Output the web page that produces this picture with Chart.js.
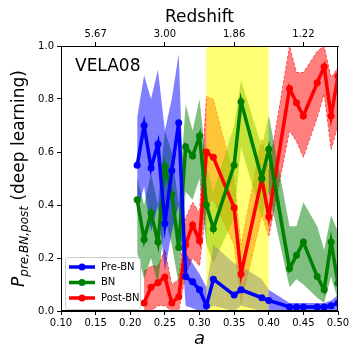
<!DOCTYPE html>
<html><head><meta charset="utf-8">
<script src="https://cdn.jsdelivr.net/npm/chart.js@4"></script>
<style>html,body{margin:0;padding:0;background:#fff;} canvas{display:block;}</style>
</head><body>
<canvas id="c" width="360" height="360"></canvas>
<script>
// ---- data ----
const aVals    = [0.21,0.22,0.23,0.24,0.25,0.26,0.27,0.28,0.29,0.30,0.31,0.32,0.35,0.36,0.39,0.40,0.43,0.44,0.45,0.47,0.48,0.49,0.50];
const preBN    = [0.55,0.70,0.54,0.63,0.33,0.53,0.71,0.13,0.11,0.08,0.02,0.12,0.06,0.08,0.05,0.04,0.015,0.015,0.015,0.015,0.015,0.02,0.03];
const preBNLo  = [0.37,0.47,0.30,0.40,0.15,0.30,0.40,0.02,0.01,0.00,0.00,0.02,0.00,0.02,0.00,0.00,0.00,0.00,0.00,0.00,0.00,0.00,0.00];
const preBNHi  = [0.73,0.89,0.80,0.91,0.68,0.80,0.97,0.22,0.18,0.14,0.09,0.25,0.18,0.17,0.12,0.08,0.03,0.03,0.03,0.03,0.03,0.04,0.06];
const bn       = [0.42,0.27,0.37,0.26,0.545,0.44,0.24,0.62,0.585,0.66,0.40,0.31,0.55,0.79,0.50,0.61,0.16,0.21,0.26,0.13,0.08,0.26,0.105];
const bnLo     = [0.22,0.12,0.20,0.10,0.35,0.25,0.10,0.45,0.42,0.50,0.25,0.18,0.35,0.62,0.35,0.45,0.09,0.12,0.10,0.05,0.03,0.13,0.04];
const bnHi     = [0.50,0.40,0.52,0.40,0.68,0.60,0.40,0.78,0.68,0.80,0.55,0.45,0.70,0.87,0.62,0.74,0.32,0.32,0.41,0.32,0.23,0.36,0.30];
const postBN   = [null,0.03,0.09,0.107,0.128,0.03,0.054,0.25,0.325,0.265,0.60,0.58,0.39,0.14,0.50,0.356,0.84,0.786,0.736,0.861,0.922,0.736,0.887];
const postBNLo = [null,0.00,0.00,0.02,0.02,0.00,0.00,0.14,0.20,0.17,0.40,0.42,0.25,0.03,0.36,0.28,0.68,0.64,0.58,0.73,0.82,0.61,0.70];
const postBNHi = [null,0.15,0.17,0.17,0.23,0.10,0.12,0.35,0.41,0.37,0.81,0.80,0.50,0.25,0.65,0.53,1.00,0.90,0.90,0.98,1.00,0.88,0.92];
const seriesLabels = ['Pre-BN','BN','Post-BN'];
const xTickVals = [0.10,0.15,0.20,0.25,0.30,0.35,0.40,0.45,0.50];
const yTickVals = [0.0,0.2,0.4,0.6,0.8,1.0];
const redshiftTickVals = [0.15,0.25,0.35,0.45];
const highlightRange = [0.31, 0.40];
const panelName = 'VELA08';

// ---- drawing ----
const FONT = "'DejaVu Sans', sans-serif";
const COLORS = ['#0000ff', '#008000', '#ff0000'];
const BANDS = ['rgba(0,0,255,0.5)', 'rgba(0,128,0,0.5)', 'rgba(255,0,0,0.5)'];
function pts(ys){ return aVals.map((a,i)=>({x:a, y:ys[i]})); }

const lines = [preBN, bn, postBN];
const los = [preBNLo, bnLo, postBNLo];
const his = [preBNHi, bnHi, postBNHi];
const datasets = [];
for (let k=0;k<3;k++){
  datasets.push({label:seriesLabels[k], data:pts(lines[k]), borderColor:COLORS[k], backgroundColor:COLORS[k],
    borderWidth:3.5, pointRadius:3.5, pointBackgroundColor:COLORS[k], pointBorderWidth:0, fill:false, order:k, tension:0});
}
// bands: hi/lo pairs; orders 20..25 so the band drawn last is index 3 (order 20)
for (let k=0;k<3;k++){
  datasets.push({label:seriesLabels[k]+' hi', data:pts(his[k]), borderWidth:k===2?1:0, borderColor:k===2?'rgba(255,0,0,0.6)':'transparent',
    borderDash:[3,2], pointRadius:0, fill:'+1', backgroundColor:BANDS[k], order:20+2*k, tension:0});
  datasets.push({label:seriesLabels[k]+' lo', data:pts(los[k]), borderWidth:k===2?1:0, borderColor:k===2?'rgba(255,0,0,0.6)':'transparent',
    borderDash:[3,2], pointRadius:0, fill:false, backgroundColor:BANDS[k], order:21+2*k, tension:0});
}

const decor = {
  id:'decor',
  afterDatasetDraw(chart, args){
    if (args.index !== 3) return; // last band drawn: put the highlight span over the bands, under the lines
    const {ctx, chartArea:ca, scales:{x}} = chart;
    ctx.save();
    ctx.fillStyle = 'rgba(255,255,0,0.55)';
    const x0 = x.getPixelForValue(highlightRange[0]), x1 = x.getPixelForValue(highlightRange[1]);
    ctx.fillRect(x0, ca.top, x1-x0, ca.bottom-ca.top);
    ctx.restore();
  },
  afterDraw(chart){
    const {ctx, chartArea:ca} = chart;
    ctx.save();
    ctx.strokeStyle = '#000'; ctx.lineWidth = 1;
    ctx.strokeRect(ca.left+0.5, ca.top+0.5, ca.right-ca.left-1, ca.bottom-ca.top-1);
    ctx.fillStyle = '#000';
    ctx.font = '17px ' + FONT; ctx.textAlign='left'; ctx.textBaseline='middle';
    ctx.fillText(panelName, ca.left+14, 67);
    const cx = (ca.left+ca.right)/2;
    ctx.textAlign='center';
    ctx.font = '17px ' + FONT;
    ctx.fillText('Redshift', cx, 18);
    ctx.font = 'italic 18px ' + FONT;
    ctx.fillText('a', cx, 339);
    ctx.save();
    ctx.translate(18, (ca.top+ca.bottom)/2);
    ctx.rotate(-Math.PI/2);
    const f1 = 'italic 17px ' + FONT, f2 = 'italic 12px ' + FONT, f3 = '17px ' + FONT;
    const t1='P', t2='pre,BN,post', t3=' (deep learning)';
    ctx.font=f1; const w1=ctx.measureText(t1).width;
    ctx.font=f2; const w2=ctx.measureText(t2).width;
    ctx.font=f3; const w3=ctx.measureText(t3).width;
    let sx = -(w1+w2+w3)/2;
    ctx.textAlign='left'; ctx.textBaseline='alphabetic';
    ctx.font=f1; ctx.fillText(t1, sx, 6); sx+=w1;
    ctx.font=f2; ctx.fillText(t2, sx, 10); sx+=w2;
    ctx.font=f3; ctx.fillText(t3, sx, 6);
    ctx.restore();
    const lx = ca.left+4, ly = 257, lw = 75, lh = 52;
    ctx.fillStyle='rgba(255,255,255,0.8)'; ctx.strokeStyle='#cccccc'; ctx.lineWidth=1;
    ctx.beginPath();
    if (ctx.roundRect) ctx.roundRect(lx+0.5, ly+0.5, lw, lh, 3); else ctx.rect(lx+0.5, ly+0.5, lw, lh);
    ctx.fill(); ctx.stroke();
    ctx.font = '10px ' + FONT; ctx.textBaseline='middle'; ctx.textAlign='left';
    for (let k=0;k<3;k++){
      const yy = ly + 10 + k*15.5;
      ctx.strokeStyle = COLORS[k]; ctx.lineWidth=3.5;
      ctx.beginPath(); ctx.moveTo(lx+4, yy); ctx.lineTo(lx+30, yy); ctx.stroke();
      ctx.fillStyle = COLORS[k];
      ctx.beginPath(); ctx.arc(lx+17, yy, 3.5, 0, Math.PI*2); ctx.fill();
      ctx.fillStyle = '#000';
      ctx.fillText(seriesLabels[k], lx+36, yy);
    }
    ctx.restore();
  }
};

const tickFont = {family:FONT, size:10};
new Chart(document.getElementById('c').getContext('2d'), {
  type:'line',
  data:{datasets},
  options:{
    responsive:false, animation:false, devicePixelRatio:1,
    layout:{padding:{left:0,right:22,top:0,bottom:0}},
    plugins:{legend:{display:false}, tooltip:{enabled:false}},
    scales:{
      x:{type:'linear', position:'bottom', min:0.1, max:0.5,
        afterBuildTicks(s){ s.ticks = xTickVals.map(v=>({value:v})); },
        ticks:{callback:v=>Number(v).toFixed(2), font:tickFont, color:'#000', maxRotation:0, autoSkip:false, padding:2},
        grid:{drawOnChartArea:false, color:'#000', tickLength:4},
        border:{color:'#000'},
        afterFit(s){ s.height = 49; }},
      x2:{type:'linear', position:'top', min:0.1, max:0.5,
        afterBuildTicks(s){ s.ticks = redshiftTickVals.map(v=>({value:v})); },
        ticks:{callback:v=>(1/v-1).toFixed(2), font:tickFont, color:'#000', maxRotation:0, autoSkip:false, padding:2},
        grid:{drawOnChartArea:false, color:'#000', tickLength:4},
        border:{color:'#000'},
        afterFit(s){ s.height = 46; }},
      y:{min:0, max:1,
        afterBuildTicks(s){ s.ticks = yTickVals.map(v=>({value:v})); },
        ticks:{callback:v=>Number(v).toFixed(1), font:tickFont, color:'#000', padding:3},
        grid:{drawOnChartArea:false, color:'#000', tickLength:4},
        border:{color:'#000'},
        afterFit(s){ s.width = 61; }}
    }
  },
  plugins:[decor]
});
</script>
</body></html>
